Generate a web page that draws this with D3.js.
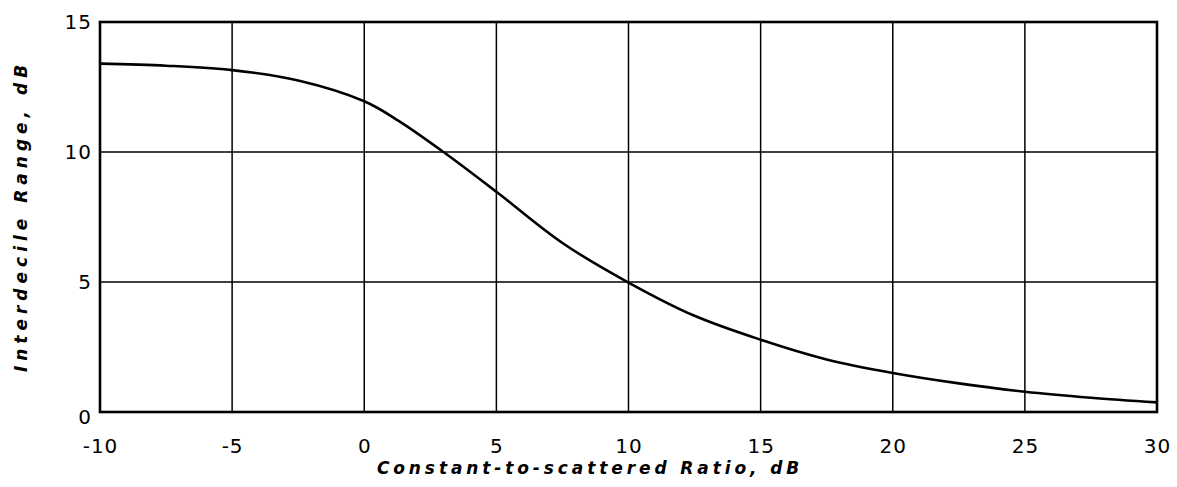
<!DOCTYPE html>
<html>
<head>
<meta charset="utf-8">
<script src="https://cdn.jsdelivr.net/npm/d3@7"></script>
<style>
  html, body { margin: 0; padding: 0; background: #fff; }
  svg { display: block; }
  .tick-label { font-family: "DejaVu Sans", sans-serif; font-size: 20px; fill: #000; letter-spacing: 1px; }
  .axis-title { font-family: "DejaVu Sans", sans-serif; font-style: italic; font-weight: bold; font-size: 17px; fill: #000; letter-spacing: 3.9px; }
</style>
</head>
<body>
<svg id="chart" width="1177" height="487"></svg>
<script>
// Constant-to-scattered ratio (dB) and the interdecile range (dB) of the curve
const ratioDb = [-10, -7.5, -5, -2.5, 0, 1.3, 3, 5, 7.5, 10, 12.5, 15, 17.5, 20, 22.5, 25, 27.5, 30];
const rangeDb = [13.4, 13.32, 13.15, 12.75, 11.95, 11.2, 10.0, 8.47, 6.5, 4.98, 3.7, 2.78, 2.02, 1.5, 1.1, 0.78, 0.55, 0.37];

const xTicks = [-10, -5, 0, 5, 10, 15, 20, 25, 30];
const yTicks = [0, 5, 10, 15];

const xTitle = "Constant-to-scattered Ratio, dB";
const yTitle = "Interdecile Range, dB";

const svg = d3.select("#chart");
const plot = { left: 100, right: 1157, top: 22, bottom: 412 };

const x = d3.scaleLinear().domain([-10, 30]).range([plot.left, plot.right]);
const y = d3.scaleLinear().domain([0, 15]).range([plot.bottom, plot.top]);

// grid lines
const grid = svg.append("g").attr("stroke", "#000").attr("stroke-width", 1.5);
grid.selectAll("line.v").data(xTicks.slice(1, -1)).join("line")
  .attr("x1", d => x(d)).attr("x2", d => x(d))
  .attr("y1", plot.top).attr("y2", plot.bottom);
grid.selectAll("line.h").data(yTicks.slice(1, -1)).join("line")
  .attr("x1", plot.left).attr("x2", plot.right)
  .attr("y1", d => y(d)).attr("y2", d => y(d));

// frame
svg.append("rect")
  .attr("x", plot.left).attr("y", plot.top)
  .attr("width", plot.right - plot.left).attr("height", plot.bottom - plot.top)
  .attr("fill", "none").attr("stroke", "#000").attr("stroke-width", 2.6);

// axes: labels only, the frame and grid carry the lines
const xAxis = d3.axisBottom(x).tickValues(xTicks).tickSize(0).tickPadding(0)
  .tickFormat(d => d < 0 ? "-" + Math.abs(d) : String(d));
const gx = svg.append("g").attr("transform", `translate(0,${plot.bottom})`).call(xAxis);
gx.select(".domain").remove();
gx.selectAll("text").attr("class", "tick-label").attr("dy", null).attr("y", 41)
  .attr("font-size", null).attr("font-family", null);

const yAxis = d3.axisLeft(y).tickValues(yTicks).tickSize(0).tickPadding(0);
const gy = svg.append("g").attr("transform", `translate(${plot.left},0)`).call(yAxis);
gy.select(".domain").remove();
gy.selectAll("text").attr("class", "tick-label").attr("x", -8).attr("dy", "0.32em")
  .attr("font-size", null).attr("font-family", null);
gy.selectAll(".tick").filter(d => d === 0).select("text").attr("dy", "0.55em");

// curve
const line = d3.line()
  .x((d, i) => x(ratioDb[i]))
  .y(d => y(d))
  .curve(d3.curveCatmullRom.alpha(0.5));
svg.append("path")
  .datum(rangeDb)
  .attr("d", line)
  .attr("fill", "none").attr("stroke", "#000").attr("stroke-width", 2.6);

// axis titles
svg.append("text").attr("class", "axis-title")
  .attr("x", 590).attr("y", 474).attr("text-anchor", "middle")
  .text(xTitle);
svg.append("text").attr("class", "axis-title")
  .attr("transform", "translate(27,216) rotate(-90)")
  .attr("text-anchor", "middle")
  .style("letter-spacing", "5px")
  .text(yTitle);
</script>
</body>
</html>
